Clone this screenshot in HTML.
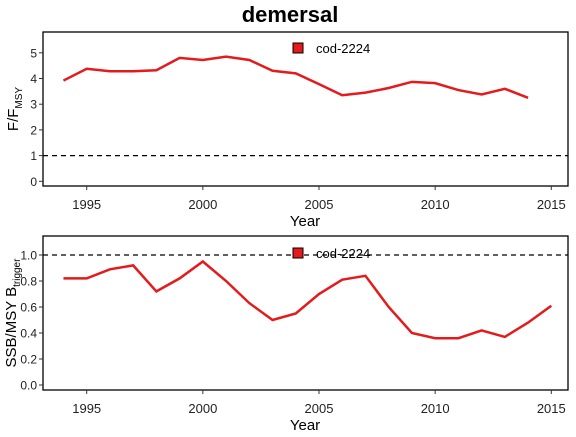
<!DOCTYPE html>
<html><head><meta charset="utf-8"><style>
body{margin:0;background:#fff;font-family:"Liberation Sans",sans-serif}
svg text{font-family:"Liberation Sans",sans-serif}
</style></head><body>
<svg id="c" width="576" height="432">
<text x="290" y="22" text-anchor="middle" font-size="22" font-weight="bold">demersal</text>
</svg>
<script>
const years1 = [1994,1995,1996,1997,1998,1999,2000,2001,2002,2003,2004,2005,2006,2007,2008,2009,2010,2011,2012,2013,2014];
const fValues = [3.92,4.38,4.28,4.28,4.32,4.8,4.72,4.85,4.72,4.3,4.2,3.78,3.35,3.45,3.63,3.87,3.82,3.55,3.38,3.6,3.25];
const years2 = [1994,1995,1996,1997,1998,1999,2000,2001,2002,2003,2004,2005,2006,2007,2008,2009,2010,2011,2012,2013,2014,2015];
const ssbValues = [0.82,0.82,0.89,0.92,0.72,0.82,0.95,0.8,0.63,0.5,0.55,0.7,0.81,0.84,0.6,0.4,0.36,0.36,0.42,0.37,0.48,0.61];
const xTicks = [1995,2000,2005,2010,2015];
const fTicks = [0,1,2,3,4,5];
const ssbTicks = [0,0.2,0.4,0.6,0.8,1.0];
const seriesName = "cod-2224";

const svg = document.getElementById('c');
const NS = 'http://www.w3.org/2000/svg';
function mk(t, a, parent){const e=document.createElementNS(NS,t);for(const k in a)e.setAttribute(k,a[k]);(parent||svg).appendChild(e);return e;}
const xs = y => 86.7 + (y-1995)*23.23;
const L = 43, R = 568;

function panel(p){
  const ys = v => p.y0 - v*p.k;
  const g = mk('g',{});
  
  
  const box = mk('rect',{x:L,y:p.top,width:R-L,height:p.bot-p.top,fill:'none',stroke:'#000','stroke-width':1.3},g);
  
  
  xTicks.forEach(t=>{
    mk('line',{x1:xs(t),x2:xs(t),y1:p.bot,y2:p.bot+4,stroke:'#333'},g);
    const tx = mk('text',{x:xs(t),y:p.bot+23,'text-anchor':'middle','font-size':13,fill:'#222'},g);
    tx.textContent = t;
    
    
  });
  p.ticks.forEach(t=>{
    mk('line',{x1:L-4,x2:L,y1:ys(t),y2:ys(t),stroke:'#333'},g);
    const tx = mk('text',{x:L-6,y:ys(t)+4.5,'text-anchor':'end','font-size':12,fill:'#222'},g);
    tx.textContent = p.fmt(t);
    
    
  });
  const xl = mk('text',{x:305,y:p.bot+40,'text-anchor':'middle','font-size':15},g);
  xl.textContent = 'Year';
  
  
  const ref = mk('line',{x1:L,x2:R,y1:ys(1),y2:ys(1),stroke:'#000','stroke-dasharray':'5,4','stroke-width':1.2},g);
  
  
  const d = p.years.map((y,i)=>(i?'L':'M')+xs(y)+','+ys(p.vals[i])).join(' ');
  const ln = mk('path',{d:d,fill:'none',stroke:'#e41a1c','stroke-width':2.5},g);
  
  
  const lk = mk('rect',{x:293,y:p.leg-5,width:10,height:10,fill:'#e41a1c',stroke:'#000','stroke-width':1},g);
  
  
  const lt = mk('text',{x:316,y:p.leg+5,'font-size':13},g);
  lt.textContent = seriesName;
  
  
  const yl = mk('text',{transform:`translate(${p.ylx},${(p.top+p.bot)/2}) rotate(-90)`,'text-anchor':'middle','font-size':15},g);
  yl.innerHTML = p.ylab;
  
  
}
panel({name:'f-panel',top:32,bot:186,y0:181.3,k:25.7,ticks:fTicks,fmt:t=>t,years:years1,vals:fValues,leg:48,ylx:18,
  ylab:'F/F<tspan font-size="10" dy="4">MSY</tspan>'});
panel({name:'ssb-panel',top:236,bot:390,y0:385,k:130,ticks:ssbTicks,fmt:t=>t.toFixed(1),years:years2,vals:ssbValues,leg:253,ylx:16,
  ylab:'SSB/MSY B<tspan font-size="10" dy="4">trigger</tspan>'});
</script>
</body></html>
